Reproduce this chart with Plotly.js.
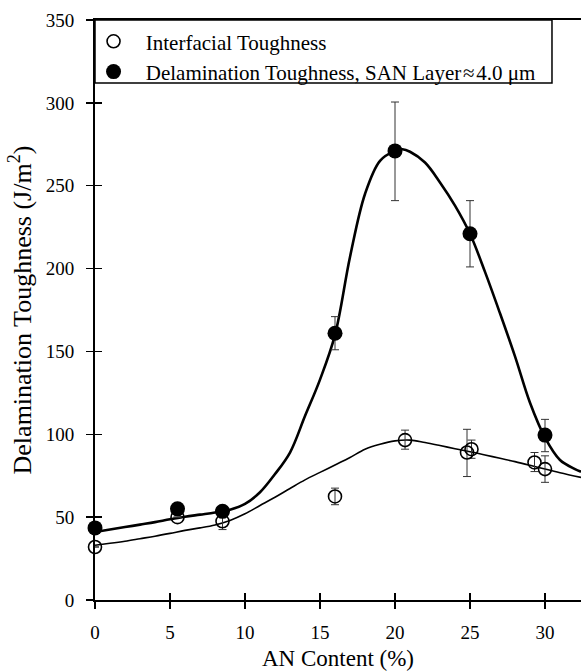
<!DOCTYPE html>
<html>
<head>
<meta charset="utf-8">
<script src="https://cdn.plot.ly/plotly-3.0.1.min.js"></script>
<style>html,body{margin:0;padding:0;background:#fff;}#chart{width:581px;height:671px;}</style>
</head>
<body>
<div id="chart"></div>
<script>
// Interfacial toughness (open circles)
const anInterfacial = [0, 5.5, 8.5, 16, 20.67, 24.8, 25.1, 29.3, 30];
const interfacial = [32, 50, 47.5, 62.5, 96.5, 89, 91, 83, 79];
const interfacialErrPlus = [0, 0, 5, 5, 6, 14, 5.5, 6, 8];
const interfacialErrMinus = [0, 0, 5, 5, 5.5, 14.5, 5.5, 5.5, 8];

// Delamination toughness (filled circles)
const anDelam = [0, 5.5, 8.5, 16, 20, 25, 30];
const delamination = [43.5, 55, 53.5, 161, 271, 221, 99.5];
const delamErrPlus = [0, 0, 3, 10, 29.5, 20, 9.5];
const delamErrMinus = [0, 0, 3, 10, 30, 20, 10];

// Fitted curves
const fitDelamX = [0, 1, 2, 3, 4, 5, 6, 7, 8, 9, 10, 11, 12, 13, 14, 15, 16, 17, 18, 19, 20, 20.5, 21, 22, 23, 24, 25, 26, 27, 28, 29, 30, 31, 32, 32.4];
const fitDelamY = [41, 42.5, 44, 45.5, 47, 48.7, 50.2, 51.5, 52.8, 54.5, 58, 65, 76, 89, 111, 133, 160, 207, 245, 265, 271, 272, 270.5, 264, 252, 238, 221, 198, 173, 147, 119, 98, 84.5, 79, 77.4];
const fitIntX = [0, 1, 2, 3, 4, 5, 6, 7, 8, 9, 10, 11, 12, 13, 14, 15, 16, 17, 18, 19, 20, 21, 22, 23, 24, 25, 26, 27, 28, 29, 30, 31, 32.4];
const fitIntY = [33, 34.2, 35.5, 37, 38.5, 40.2, 42, 43.5, 45.3, 48, 52, 57, 62, 67.3, 72.5, 77, 81.5, 86, 91, 94, 96, 96.5, 95, 93.2, 91.3, 89.5, 87.5, 85.5, 83.5, 81.3, 79, 76.8, 74];

const xTicks = [0, 5, 10, 15, 20, 25, 30];
const yTicks = [0, 50, 100, 150, 200, 250, 300, 350];

const serif = 'Liberation Serif, Times New Roman, serif';

const traces = [
  {x: fitIntX, y: fitIntY, mode: 'lines', line: {color: '#000', width: 1.6, shape: 'spline', smoothing: 1}, showlegend: false, hoverinfo: 'skip'},
  {x: fitDelamX, y: fitDelamY, mode: 'lines', line: {color: '#000', width: 2.6, shape: 'spline', smoothing: 1}, showlegend: false, hoverinfo: 'skip'},
  {x: anInterfacial, y: interfacial, mode: 'markers', name: '\u2002\u200aInterfacial Toughness',
   marker: {symbol: 'circle-open', size: 13, color: '#000', line: {width: 1.6, color: '#000'}},
   error_y: {type: 'data', symmetric: false, array: interfacialErrPlus, arrayminus: interfacialErrMinus, color: '#333', thickness: 1, width: 4},
   cliponaxis: false},
  {x: anDelam, y: delamination, mode: 'markers', name: '\u2002\u200aDelamination Toughness, SAN Layer\u200a\u2248\u200a4.0 \u03bcm',
   marker: {symbol: 'circle', size: 15, color: '#000'},
   error_y: {type: 'data', symmetric: false, array: delamErrPlus, arrayminus: delamErrMinus, color: '#333', thickness: 1, width: 4},
   cliponaxis: false},
  {x: [0], y: [0], xaxis: 'x2', yaxis: 'y2', mode: 'markers', marker: {opacity: 0}, showlegend: false, hoverinfo: 'skip'}
];

const layout = {
  width: 581, height: 671,
  margin: {l: 95, r: 0, t: 20, b: 71},
  paper_bgcolor: '#fff', plot_bgcolor: '#fff',
  font: {family: serif, color: '#000', size: 19},
  showlegend: true,
  legend: {x: -0.003, y: 0.998, xanchor: 'left', yanchor: 'top', bgcolor: 'rgba(0,0,0,0)', borderwidth: 0,
           font: {family: serif, size: 21, color: '#000'}, itemwidth: 30, tracegroupgap: 0},
  shapes: [
    {type: 'rect', xref: 'paper', yref: 'paper', x0: 0, x1: 0.9403, y0: 0.8914, y1: 1,
     line: {color: '#000', width: 1.5}, fillcolor: '#fff', layer: 'below'}
  ],
  xaxis: {range: [0, 32.4], tickvals: xTicks, ticktext: xTicks.map(String), ticks: 'outside', ticklen: 7, tickwidth: 1.5, tickcolor: '#000',
          showline: true, linecolor: '#000', linewidth: 2, mirror: true, showgrid: false, zeroline: false,
          tickfont: {family: serif, size: 19}, ticklabelstandoff: 7,
          title: {text: 'AN Content (%)', font: {family: serif, size: 23}, standoff: 8}},
  yaxis: {range: [0, 350], tickvals: yTicks, ticktext: yTicks.map(String), ticks: 'outside', ticklen: 7, tickwidth: 1.5, tickcolor: '#000',
          showline: true, linecolor: '#000', linewidth: 2, showgrid: false, zeroline: false,
          tickfont: {family: serif, size: 19}, ticklabelstandoff: 8,
          title: {text: 'Delamination Toughness (J/m<sup>2</sup>)', font: {family: serif, size: 26}, standoff: 7}},
  xaxis2: {overlaying: 'x', range: [0, 32.4], tickvals: xTicks, ticks: 'inside', ticklen: 7, tickwidth: 1.5, tickcolor: '#000',
           showticklabels: false, showline: false, showgrid: false, zeroline: false, side: 'bottom'},
  yaxis2: {overlaying: 'y', range: [0, 350], tickvals: yTicks, ticks: 'inside', ticklen: 7, tickwidth: 1.5, tickcolor: '#000',
           showticklabels: false, showline: false, showgrid: false, zeroline: false, side: 'left'}
};

Plotly.newPlot('chart', traces, layout, {staticPlot: true, displayModeBar: false});
</script>
</body>
</html>
